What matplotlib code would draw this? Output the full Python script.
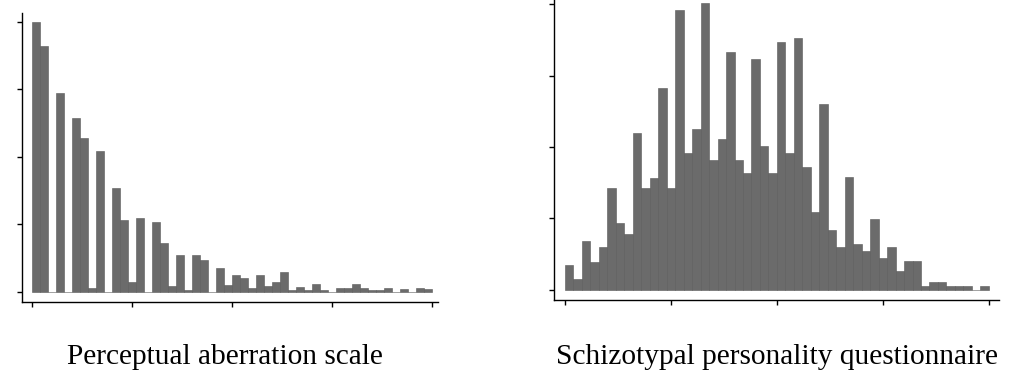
import numpy as np
import matplotlib.pyplot as plt

# bar heights, one per bin (50 bins each)
pas_counts = [40.0, 36.5, 0, 29.5, 0, 25.8, 22.8, 0.5, 20.9, 0,
              15.4, 10.7, 1.4, 10.9, 0, 10.3, 7.2, 0.9, 5.4, 0.25,
              5.4, 4.7, 0, 3.5, 1.0, 2.5, 2.1, 0.5, 2.5, 0.9,
              1.5, 2.9, 0.25, 0.74, 0.25, 1.1, 0.25, 0, 0.5, 0.5,
              1.1, 0.6, 0.25, 0.25, 0.6, 0, 0.35, 0, 0.6, 0.35]

spq_counts = [3.5, 1.5, 6.9, 3.9, 6.0, 14.2, 9.3, 7.8, 22.0, 14.2,
              15.7, 28.3, 14.2, 39.1, 19.1, 22.5, 40.1, 18.2, 21.1, 33.3,
              18.2, 16.3, 32.3, 20.2, 16.3, 34.7, 19.1, 35.2, 17.2, 10.9,
              26.0, 8.4, 6.0, 15.8, 6.5, 5.5, 9.9, 4.5, 6.0, 2.6,
              4.0, 4.0, 0.6, 1.1, 1.1, 0.6, 0.6, 0.6, 0, 0.6]

titles = ["Perceptual aberration scale", "Schizotypal personality questionnaire"]

BAR = "#6b6b6b"
W, H = 1024, 386


def draw(ax, counts, ylim, xlim):
    x = np.arange(len(counts))
    ax.bar(x, counts, width=1.0, align="edge", color=BAR,
           edgecolor="#5a5a5a", linewidth=0.4)
    ax.set_xlim(*xlim)
    ax.set_ylim(*ylim)
    ax.set_xticks([0, 12.5, 25, 37.5, 50])
    ax.set_yticks([0, 10, 20, 30, 40])
    ax.set_xticklabels([])
    ax.set_yticklabels([])
    ax.tick_params(direction="out", length=3.5, width=1, color="black")
    for s in ["top", "right"]:
        ax.spines[s].set_visible(False)
    for s in ["left", "bottom"]:
        ax.spines[s].set_linewidth(1.0)


fig = plt.figure(figsize=(W / 100, H / 100), dpi=100)

ax1 = fig.add_axes([22 / W, 1 - 302 / H, (438 - 22) / W, (302 - 13) / H])
draw(ax1, pas_counts, (-1.53, 41.33), (-1.25, 50.75))

ax2 = fig.add_axes([554 / W, 1 - 300 / H, (999 - 554) / W, 300 / H])
draw(ax2, spq_counts, (-1.4, 40.56), (-1.3, 51.2))

fig.text(225 / W, 1 - 357 / H, titles[0], ha="center", va="center",
         fontsize=21.2, family="Liberation Serif")
fig.text(777 / W, 1 - 357 / H, titles[1], ha="center", va="center",
         fontsize=21.2, family="Liberation Serif")

fig.savefig("out.png", dpi=100)
